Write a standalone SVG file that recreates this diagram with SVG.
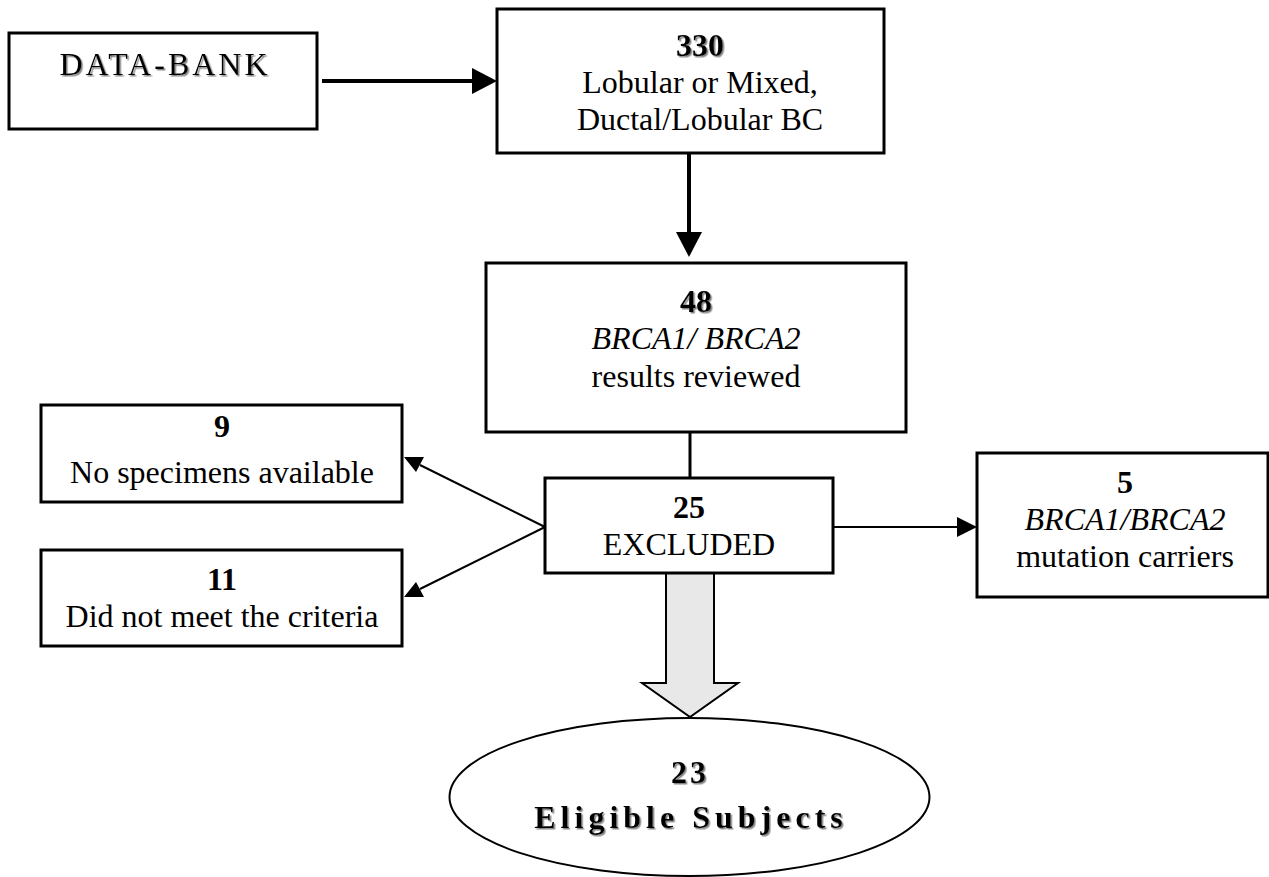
<svg xmlns="http://www.w3.org/2000/svg" width="1269" height="877" viewBox="0 0 1269 877">
<style>
.box{fill:#fff;stroke:#000;stroke-width:3}
.t{font-family:"Liberation Serif","Times New Roman",serif;font-size:32px;fill:#000;text-anchor:middle}
.b{font-weight:bold}
.i{font-style:italic}
.sh{filter:url(#shadow)}
.thick{stroke:#000;stroke-width:4;fill:none}
.thin{stroke:#000;stroke-width:2;fill:none}
</style>
<defs>
<filter id="shadow" x="-10%" y="-20%" width="120%" height="150%">
<feDropShadow dx="1.5" dy="1.5" stdDeviation="0.6" flood-color="#777" flood-opacity="0.9"/>
</filter>
</defs>
<rect width="1269" height="877" fill="#fff"/>
<g id="connectors">
<line class="thick" x1="322" y1="81" x2="474" y2="81"/>
<polygon points="472,68 497,81 472,94" fill="#000"/>
<line class="thick" x1="689" y1="153" x2="689" y2="234"/>
<polygon points="676,232 702,232 689,257" fill="#000"/>
<line x1="690" y1="432" x2="690" y2="478" stroke="#000" stroke-width="3"/>
<line class="thin" x1="545" y1="527" x2="420" y2="465"/>
<polygon points="404,457 424,457 416,472" fill="#000"/>
<line class="thin" x1="545" y1="527" x2="420" y2="589"/>
<polygon points="404,597 416,582 424,597" fill="#000"/>
<line class="thin" x1="833" y1="527" x2="958" y2="527"/>
<polygon points="957,517 977,527 957,537" fill="#000"/>
<polygon points="666,573 666,683 642,683 690,717 738,683 714,683 714,573" fill="#e8e8e8" stroke="#000" stroke-width="2"/>
</g>
<g id="databank">
<rect class="box" x="9" y="33" width="308" height="96"/>
<text class="t sh" x="165" y="75" font-size="33" letter-spacing="3">DATA-BANK</text>
</g>
<g id="n330">
<rect class="box" x="497" y="9" width="387" height="144"/>
<text class="t b sh" x="700" y="56">330</text>
<text class="t" x="700" y="93">Lobular or Mixed,</text>
<text class="t" x="700" y="130">Ductal/Lobular BC</text>
</g>
<g id="n48">
<rect class="box" x="486" y="263" width="420" height="169"/>
<text class="t b sh" x="696" y="312">48</text>
<text class="t i" x="696" y="349">BRCA1/ BRCA2</text>
<text class="t" x="696" y="387">results reviewed</text>
</g>
<g id="n9">
<rect class="box" x="41" y="405" width="361" height="97"/>
<text class="t b" x="222" y="437">9</text>
<text class="t" x="222" y="483">No specimens available</text>
</g>
<g id="n11">
<rect class="box" x="41" y="550" width="361" height="96"/>
<text class="t b" x="222" y="590">11</text>
<text class="t" x="222" y="627">Did not meet the criteria</text>
</g>
<g id="n25">
<rect class="box" x="545" y="478" width="288" height="95"/>
<text class="t b" x="689" y="518">25</text>
<text class="t" x="689" y="555">EXCLUDED</text>
</g>
<g id="n5">
<rect class="box" x="977" y="453" width="291" height="144"/>
<text class="t b" x="1125" y="493">5</text>
<text class="t i" x="1125" y="530">BRCA1/BRCA2</text>
<text class="t" x="1125" y="567">mutation carriers</text>
</g>
<g id="eligible">
<ellipse cx="689.5" cy="797" rx="240" ry="79" fill="#fff" stroke="#000" stroke-width="2"/>
<text class="t b sh" x="690" y="783" font-size="34" letter-spacing="3">23</text>
<text class="t b sh" x="691" y="828" letter-spacing="5">Eligible Subjects</text>
</g>
</svg>
